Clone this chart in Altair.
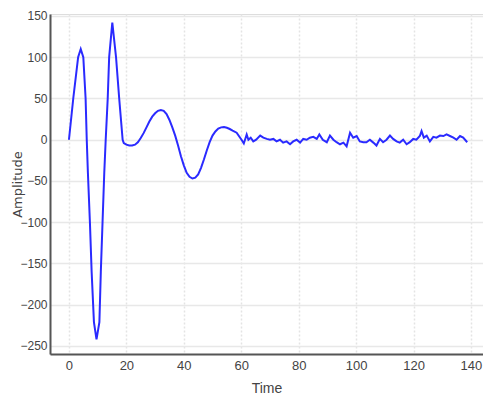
import altair as alt
import pandas as pd

# Time samples
time_vals = [
    0, 1.5, 3.2, 4.1, 5.0, 5.8, 6.2, 6.6, 7.3, 7.9, 8.7, 9.6, 10.6, 11.1, 11.7,
    12.3, 12.8, 13.5, 14.0, 15.1, 16.4, 17.5, 18.7, 19.1, 20, 21, 22, 23, 24,
    25, 26, 27, 28, 29, 30, 31, 32, 33, 34, 35, 36, 37, 38, 39, 40, 41, 42,
    43, 44, 45, 46, 47, 48, 49, 50, 51, 52, 53, 54, 55, 56, 57, 58.4, 60.1,
    60.9, 61.9, 62.5, 63.3, 64.2, 65.2, 66.6, 67.7, 68.9, 70.0, 71.2, 72.3,
    73.5, 74.6, 75.8, 77.0, 78.1, 79.3, 80.5, 81.6, 82.8, 83.9, 85.1, 86.3,
    87.2, 88.4, 89.8, 90.9, 92.1, 93.2, 94.4, 95.6, 96.7, 97.9, 99.0, 100.2,
    101.3, 102.5, 103.6, 104.8, 106.0, 107.1, 108.3, 109.4, 110.6, 111.8,
    112.9, 114.1, 115.2, 116.4, 117.6, 118.7, 119.9, 121.0, 122.2, 122.8,
    123.6, 124.6, 125.7, 126.9, 128.0, 129.2, 130.4, 131.5, 132.7, 133.9,
    135.0, 136.2, 137.3, 138.7,
]
amplitude_vals = [
    0, 50, 100, 110, 100, 50, 0, -40, -100, -160, -221, -242, -221, -160, -100,
    -40, 0, 50, 100, 142, 100, 50, 0, -4, -6, -7, -7, -6, -3,
    2, 8, 15, 22, 28, 32, 35, 36, 35, 31, 24, 15, 5, -7, -20, -31, -40, -45,
    -47, -46, -42, -34, -24, -13, -3, 5, 10, 13.5, 15, 15.5, 14.5, 13, 11, 8.5, 0,
    -4.5, 6.4, 0, 2.5, -2, 0, 5, 2.5, 1, 0, 1, -2,
    0, -3.5, -2, -5.5, -2, 0, -3.5, 1, 0, 2.5, 3.5, 1,
    6.4, 0, -3, 5, 0, -3, -5.5, -3.5, -8, 8.5, 2.5, 4.5,
    -2, -3, -3, 0, -3.5, -7, 1, -3, 0, 5,
    1, -2, -3.5, 0, -5.5, -3, 1, 0, 4.5, 10.5,
    2.5, 5, -2, 3.5, 2.5, 5, 4.5, 6.4, 4.5, 2.5,
    0, 4.5, 2.5, -3,
]

x_ticks = [0, 20, 40, 60, 80, 100, 120, 140]
y_ticks = [-250, -200, -150, -100, -50, 0, 50, 100, 150]

df = pd.DataFrame({"Time": time_vals, "Amplitude": amplitude_vals})

label_font = "Liberation Sans, Arial, sans-serif"

chart = (
    alt.Chart(df)
    .mark_line(color="#2a2aff", strokeWidth=2)
    .encode(
        x=alt.X(
            "Time:Q",
            scale=alt.Scale(domain=[-6.6, 144.2], nice=False, zero=False),
            axis=alt.Axis(
                values=x_ticks,
                title="Time",
                titleFont=label_font,
                titleFontSize=14,
                titleFontWeight="normal",
                titleColor="#444444",
                titleY=38,
                titleBaseline="alphabetic",
                labelFont=label_font,
                labelFontSize=13,
                labelColor="#444444",
                labelPadding=5,
                ticks=False,
                domainColor="#555555",
                domainWidth=2,
                grid=True,
                gridColor="#e4e4e4",
                gridDash=[2, 2],
                gridWidth=1.5,
            ),
        ),
        y=alt.Y(
            "Amplitude:Q",
            scale=alt.Scale(domain=[-259.7, 152.4], nice=False, zero=False),
            axis=alt.Axis(
                values=y_ticks,
                title="Amplitude",
                titleFont="DejaVu Sans, sans-serif",
                titleFontSize=13,
                titleFontWeight="normal",
                titleColor="#444444",
                titleX=-33,
                titleY=170,
                titleAngle=270,
                titleAlign="center",
                titleBaseline="middle",
                labelFont=label_font,
                labelFontSize=12,
                labelColor="#444444",
                labelPadding=3,
                ticks=False,
                domainColor="#555555",
                domainWidth=2,
                grid=True,
                gridColor="#e8e8e8",
                gridWidth=1.5,
            ),
        ),
    )
    .properties(
        width=433,
        height=340,
        autosize=alt.AutoSizeParams(type="none"),
        padding={"left": 42, "top": 6, "right": 0, "bottom": 41},
    )
    .configure_view(stroke=None)
    .configure(background="white")
)

chart.save("out.html", embed_options={"renderer": "svg", "actions": False})
